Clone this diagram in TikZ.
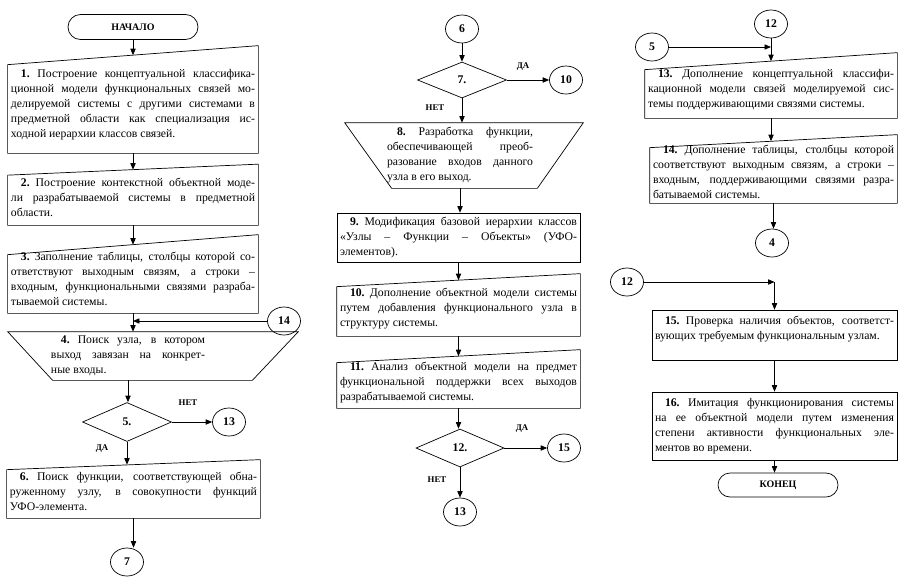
\documentclass[tikz,border=0pt]{standalone}
\usepackage{fontspec}
\setmainfont{Liberation Serif}
\usetikzlibrary{arrows.meta, positioning, shapes.geometric, shapes.misc, calc}
\tolerance=10000
\hbadness=10000
\def\pxl{0.03cm}
\newcommand\stepno[1]{\hspace*{0.3cm}\textbf{#1}~}
\tikzset{
  every picture/.style={line width=0.6pt},
  box/.style={inner xsep=0.09cm, inner ysep=0pt, align=justify, font=\fontsize{10}{12.8}\selectfont},
  circ/.style={draw, ellipse, minimum width=0.99cm, minimum height=0.84cm, inner sep=0pt, font=\bfseries\fontsize{10}{12}\selectfont},
  cond/.style={draw, diamond, inner sep=0pt, font=\bfseries\fontsize{10}{12}\selectfont},
  term/.style={draw, rounded rectangle, inner sep=0pt, font=\bfseries\fontsize{8.5}{10}\selectfont},
  arrow/.style={-{Triangle[length=5.5pt, width=4.5pt]}},
  yesno/.style={font=\bfseries\fontsize{7.5}{9}\selectfont},
}

\begin{document}
\begin{tikzpicture}[x=0.03cm, y=-0.03cm]
  \useasboundingbox (0,0) rectangle (908,585);
  % left column
  \node[term, minimum width=3.9cm, minimum height=0.75cm] (start) at (133,27) {НАЧАЛО};
  \node[box, text width=7.32cm, minimum height=2.925cm] (b1) at (133,104.25) {\stepno{1.}Построение концептуальной классифика-\linebreak ционной модели функциональных связей мо-\linebreak делируемой системы с другими системами в\linebreak предметной области как специализация ис-\linebreak ходной иерархии классов связей.};
  \node[box, text width=7.32cm, minimum height=1.65cm] (b2) at (133,197.5) {\stepno{2.}Построение контекстной объектной моде-\linebreak ли разрабатываемой системы в предметной\linebreak области.};
  \node[box, text width=7.32cm, minimum height=2.04cm] (b3) at (133,279) {\stepno{3.}Заполнение таблицы, столбцы которой со-\linebreak ответствуют выходным связям, а строки –\linebreak входным, функциональными связями разраба-\linebreak тываемой системы.};
  \node[circ] (c14) at (284,321) {14};
  \node[box, inner xsep=0pt, text width=4.62cm, minimum height=1.44cm] (t4) at (128,356) {\stepno{4.}Поиск узла, в котором\linebreak выход завязан на конкрет-\linebreak ные входы.};
  \node[cond, minimum width=2.67cm, minimum height=1.17cm] (d5) at (127,422) {5.};
  \node[circ] (c13a) at (229,422) {13};
  \node[yesno] (n5) at (188,403) {НЕТ};
  \node[yesno] (y5) at (102,449) {ДА};
  \node[box, text width=7.41cm, minimum height=1.59cm] (b6) at (133.5,491.5) {\stepno{6.}Поиск функции, соответствующей обна-\linebreak руженному узлу, в совокупности функций\linebreak УФО-элемента.};
  \node[circ] (c7) at (127,562) {7};
  % middle column
  \node[circ] (c6) at (462,29) {6};
  \node[cond, minimum width=2.67cm, minimum height=1.08cm] (d7) at (462,80) {7.};
  \node[circ] (c10) at (566,80) {10};
  \node[yesno] (y7) at (523,67) {ДА};
  \node[yesno] (n7) at (435,108) {НЕТ};
  \node[box, inner xsep=0pt, text width=4.38cm, minimum height=1.95cm] (t8) at (460,155.5) {\stepno{8.}Разработка функции,\linebreak обеспечивающей преоб-\linebreak разование входов данного\linebreak узла в его выход.};
  \node[box, draw, text width=7.11cm, minimum height=1.47cm] (b9) at (458.5,237.5) {\stepno{9.}Модификация базовой иерархии классов\linebreak «Узлы – Функции – Объекты» (УФО-\linebreak элементов).};
  \node[box, text width=7.11cm, minimum height=1.665cm] (b10) at (458.5,308.25) {\stepno{10.}Дополнение объектной модели системы\linebreak путем добавления функционального узла в\linebreak структуру системы.};
  \node[box, text width=7.11cm, minimum height=1.545cm] (b11) at (458.5,382.25) {\stepno{11.}Анализ объектной модели на предмет\linebreak функциональной поддержки всех выходов\linebreak разрабатываемой системы.};
  \node[cond, minimum width=2.64cm, minimum height=1.14cm] (d12) at (460,448) {12.};
  \node[circ] (c15) at (564,448) {15};
  \node[yesno] (y12) at (522,429) {ДА};
  \node[yesno] (n12) at (437,480) {НЕТ};
  \node[circ] (c13b) at (460,512) {13};
  % right column
  \node[circ] (c12a) at (771,24) {12};
  \node[circ] (c5) at (652,47) {5};
  \node[box, text width=7.38cm, minimum height=1.695cm] (b13) at (771,89.75) {\stepno{13.}Дополнение концептуальной классифи-\linebreak кационной модели связей моделируемой сис-\linebreak темы поддерживающими связями системы.};
  \node[box, text width=7.23cm, minimum height=1.845cm] (b14) at (773.5,172.25) {\stepno{14.}Дополнение таблицы, столбцы которой\linebreak соответствуют выходным связям, а строки –\linebreak входным, поддерживающими связями разра-\linebreak батываемой системы.};
  \node[circ] (c4) at (772,243) {4};
  \node[circ] (c12b) at (627,282) {12};
  \node[box, draw, text width=7.17cm, minimum height=1.5cm] (b15) at (774.5,335) {\stepno{15.}Проверка наличия объектов, соответст-\linebreak вующих требуемым функциональным узлам.\par\mbox{}};
  \node[box, draw, text width=7.17cm, minimum height=2.04cm] (b16) at (774.5,426) {\stepno{16.}Имитация функционирования системы\linebreak на ее объектной модели путем изменения\linebreak степени активности функциональных эле-\linebreak ментов во времени.};
  \node[term, minimum width=3.6cm, minimum height=0.72cm] (stop) at (778,485) {КОНЕЦ};
  % box outlines with slanted top
  \foreach \n/\s in {b1/9.5, b2/5.5, b3/10, b6/5, b10/6.5, b11/6.5, b13/8.5, b14/6.5}
    \draw ($(\n.north west)+(0,\s)$) -- ($(\n.north east)+(0,-\s)$) -- (\n.south east) -- (\n.south west) -- cycle;
  \draw ($(t4.north west)+(-43,0)$) -- ($(t4.north east)+(93,0)$) -- ($(t4.south east)+(47,0)$) -- ($(t4.south west)+(2,0)$) -- cycle;
  \draw ($(t8.north west)+(-42,0)$) -- ($(t8.north east)+(50,0)$) -- ($(t8.south east)+(4,0)$) -- ($(t8.south west)+(5,0)$) -- cycle;
  % connectors
  \foreach \a/\b in {start/b1, b1/b2, b2/b3, b3/t4, t4/d5, d5/b6, b6/c7, c6/d7, d7/t8, t8/b9, b9/b10, b10/b11, b11/d12, d12/c13b, c12a/b13, b13/b14, b14/c4, b15/b16, b16/stop}
    \draw[arrow] (\a.south) -- (\a.south |- \b.north);
  \foreach \a/\b in {d5/c13a, d7/c10, d12/c15}
    \draw[arrow] (\a.east) -- (\b.west);
  \draw[arrow] (c14.west) -- (c14.west -| b3.south);
  \draw[arrow] (c5.east) -- (c5.east -| c12a.south);
  \coordinate (j15) at (c12b.east -| b15.north);
  \draw[arrow] (c12b.east) -- (j15);
  \draw[arrow] (j15) -- (b15.north);
\end{tikzpicture}
\end{document}
